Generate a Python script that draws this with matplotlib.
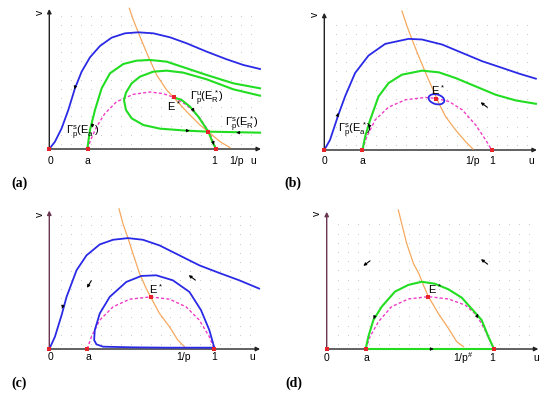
import numpy as np
import matplotlib
matplotlib.use('Agg')
import matplotlib.pyplot as plt
from matplotlib.patches import Ellipse

plt.rcParams['font.family'] = ['Liberation Sans', 'DejaVu Sans']
plt.rcParams['mathtext.fontset'] = 'custom'
plt.rcParams['mathtext.rm'] = 'Liberation Sans'
plt.rcParams['mathtext.it'] = 'Liberation Sans'
plt.rcParams['mathtext.bf'] = 'Liberation Sans:bold'

# ---------------- data (u, v) ----------------
# panel (a)
a_blue_u = [0, 0.034, 0.074, 0.114, 0.154, 0.194, 0.244, 0.304, 0.374, 0.454, 0.534, 0.624, 0.724, 0.824, 0.944, 1.064, 1.164, 1.264]
a_blue_v = [0, 0.044, 0.124, 0.234, 0.364, 0.464, 0.55, 0.618, 0.668, 0.694, 0.70, 0.694, 0.67, 0.634, 0.584, 0.538, 0.504, 0.48]
a_green1_u = [0.228, 0.244, 0.274, 0.314, 0.364, 0.444, 0.524, 0.604, 0.704, 0.824, 0.944, 1.104, 1.264]
a_green1_v = [0, 0.114, 0.234, 0.364, 0.454, 0.51, 0.53, 0.534, 0.524, 0.484, 0.444, 0.394, 0.364]
a_loop_u = [1.264, 1.104, 0.944, 0.804, 0.704, 0.624, 0.544, 0.494, 0.46, 0.448, 0.46, 0.494, 0.564, 0.664, 0.824, 0.954]
a_loop_v = [0.32, 0.358, 0.418, 0.458, 0.47, 0.464, 0.434, 0.394, 0.338, 0.294, 0.234, 0.184, 0.144, 0.122, 0.11, 0.104]
a_stab_u = [0.954, 1.264]
a_stab_v = [0.104, 0.098]
a_unst_u = [0.746, 0.794, 0.844, 0.894, 0.934, 0.954, 0.978, 1.0]
a_unst_v = [0.31, 0.294, 0.254, 0.194, 0.134, 0.104, 0.044, 0]
a_mag_u = [0.23, 0.248, 0.284, 0.334, 0.404, 0.504, 0.604, 0.684, 0.746, 0.824, 0.904, 0.964, 1.0]
a_mag_v = [0, 0.054, 0.134, 0.214, 0.284, 0.328, 0.342, 0.332, 0.31, 0.264, 0.184, 0.094, 0]
a_or_u = [0.48, 0.504, 0.544, 0.594, 0.644, 0.704, 0.746, 0.824, 0.904, 0.954, 1.024, 1.084]
a_or_v = [0.844, 0.774, 0.674, 0.554, 0.444, 0.354, 0.31, 0.224, 0.144, 0.104, 0.044, 0.008]
a_pts_u = [0, 0.23, 1.0, 0.746, 0.954]
a_pts_v = [0, 0, 0, 0.31, 0.104]

# panel (b)
b_blue_u = [0, 0.034, 0.084, 0.124, 0.184, 0.264, 0.364, 0.504, 0.584, 0.704, 0.824, 0.944, 1.064, 1.164, 1.264]
b_blue_v = [0, 0.06, 0.21, 0.32, 0.46, 0.564, 0.634, 0.664, 0.66, 0.63, 0.58, 0.53, 0.49, 0.456, 0.426]
b_green_u = [0.228, 0.244, 0.274, 0.324, 0.384, 0.464, 0.584, 0.684, 0.784, 0.904, 1.024, 1.144, 1.264]
b_green_v = [0, 0.08, 0.18, 0.32, 0.4, 0.45, 0.474, 0.464, 0.43, 0.38, 0.33, 0.296, 0.276]
b_mag_u = [0.228, 0.254, 0.304, 0.384, 0.484, 0.604, 0.67, 0.744, 0.824, 0.904, 0.964, 1.0]
b_mag_v = [0, 0.08, 0.18, 0.256, 0.3, 0.314, 0.308, 0.29, 0.24, 0.15, 0.06, 0]
b_or_u = [0.464, 0.494, 0.524, 0.564, 0.614, 0.654, 0.684, 0.724, 0.784, 0.844, 0.888]
b_or_v = [0.83, 0.74, 0.66, 0.56, 0.44, 0.35, 0.28, 0.2, 0.12, 0.05, 0.006]
b_pts_u = [0, 0.228, 1.0, 0.67]
b_pts_v = [0, 0, 0, 0.306]

# panel (c)
c_blue_u = [0, 0.034, 0.074, 0.104, 0.164, 0.224, 0.304, 0.384, 0.474, 0.564, 0.664, 0.784, 0.904, 1.024, 1.144, 1.264]
c_blue_v = [0, 0.074, 0.204, 0.314, 0.474, 0.564, 0.63, 0.658, 0.668, 0.658, 0.624, 0.564, 0.504, 0.458, 0.414, 0.364]
c_loop_u = [0.994, 0.964, 0.914, 0.844, 0.744, 0.644, 0.554, 0.464, 0.364, 0.304, 0.274, 0.27, 0.284, 0.324, 0.504, 0.704, 0.904, 0.994]
c_loop_v = [0.008, 0.114, 0.234, 0.344, 0.414, 0.444, 0.44, 0.404, 0.314, 0.214, 0.114, 0.054, 0.028, 0.014, 0.01, 0.008, 0.008, 0.008]
c_mag_u = [0.228, 0.254, 0.304, 0.384, 0.484, 0.61, 0.724, 0.824, 0.904, 0.964, 0.994]
c_mag_v = [0, 0.074, 0.174, 0.254, 0.3, 0.314, 0.3, 0.254, 0.174, 0.074, 0]
c_or_u = [0.42, 0.444, 0.474, 0.504, 0.544, 0.584, 0.61, 0.664, 0.724, 0.774, 0.814]
c_or_v = [0.844, 0.754, 0.668, 0.574, 0.454, 0.364, 0.314, 0.214, 0.134, 0.054, 0.014]
c_pts_u = [0, 0.228, 0.994, 0.61]
c_pts_v = [0, 0, 0, 0.314]

# panel (d)
d_green_u = [0.233, 0.249, 0.279, 0.329, 0.408, 0.488, 0.568, 0.647, 0.727, 0.807, 0.886, 0.926, 0.966, 1.0]
d_green_v = [0, 0.074, 0.173, 0.253, 0.343, 0.383, 0.402, 0.39, 0.357, 0.307, 0.219, 0.173, 0.074, 0]
d_gline_u = [0.233, 1.0]
d_gline_v = [0, 0]
d_mag_u = [0.233, 0.259, 0.309, 0.388, 0.488, 0.608, 0.727, 0.827, 0.896, 0.946, 1.0]
d_mag_v = [0, 0.074, 0.163, 0.253, 0.299, 0.313, 0.299, 0.263, 0.203, 0.113, 0]
d_or_u = [0.428, 0.448, 0.478, 0.518, 0.552, 0.578, 0.608, 0.667, 0.727, 0.777, 0.817]
d_or_v = [0.831, 0.751, 0.631, 0.512, 0.448, 0.382, 0.313, 0.213, 0.124, 0.044, 0.014]
d_pts_u = [0, 0.233, 1.0, 0.608]
d_pts_v = [0, 0, 0, 0.313]

# ---------------- styling ----------------
BLUE = '#2a2ae6'
GREEN = '#22dd22'
ORANGE = '#f6a95e'
MAGENTA = '#f03cc8'
RED = '#e8232a'
W, H = 550, 397

fig = plt.figure(figsize=(5.5, 3.97), dpi=100)


def make_ax(x0, y0, x1, y1, ox, oy, unit):
    ax = fig.add_axes([x0 / W, 1 - y1 / H, (x1 - x0) / W, (y1 - y0) / H])
    ax.set_xlim((x0 - ox) / unit, (x1 - ox) / unit)
    ax.set_ylim((oy - y1) / unit, (oy - y0) / unit)
    ax.axis('off')
    return ax


def base(ax, utop, vtop, vaxcol='#222222'):
    gu = np.arange(0.07, utop - 0.02, 0.06)
    gv = np.arange(0.03, vtop - 0.02, 0.055)
    GU, GV = np.meshgrid(gu, gv)
    ax.scatter(GU.ravel(), GV.ravel(), s=0.6, color='#c4c4c4', lw=0, zorder=0)
    ax.annotate('', xy=(utop, 0), xytext=(0, 0),
                arrowprops=dict(arrowstyle='-|>', color='#222222', lw=1.0, mutation_scale=6, shrinkA=0, shrinkB=0), zorder=1)
    ax.annotate('', xy=(0, vtop), xytext=(0, 0),
                arrowprops=dict(arrowstyle='-|>', color=vaxcol, lw=1.0, mutation_scale=6, shrinkA=0, shrinkB=0), zorder=1)


def arrow(ax, u, v, du, dv, s=5):
    n = np.hypot(du, dv)
    du, dv = du / n * 0.012, dv / n * 0.012
    ax.annotate('', xy=(u + du, v + dv), xytext=(u - du, v - dv),
                arrowprops=dict(arrowstyle='-|>', color='black', lw=0.4, mutation_scale=s, shrinkA=0, shrinkB=0), zorder=6)


def field(ax, u, v, du, dv):
    n = np.hypot(du, dv)
    du, dv = du / n * 0.025, dv / n * 0.025
    ax.annotate('', xy=(u + du, v + dv), xytext=(u - du, v - dv),
                arrowprops=dict(arrowstyle='-|>', color='black', lw=0.8, mutation_scale=4, shrinkA=0, shrinkB=0), zorder=6)


def ticks(ax, labels, vy):
    for (u, t) in labels:
        ax.text(u, vy, t, ha='center', va='center', fontsize=7.5)


def vlabel(ax, u, v):
    ax.text(u, v, 'v', rotation=90, ha='center', va='center', fontsize=7.5)


def mag(ax, u, v):
    ax.plot(u, v, color=MAGENTA, lw=1.0, ls=(0, (2.2, 1.6)), zorder=2)


def orange(ax, u, v):
    ax.plot(u, v, color=ORANGE, lw=0.9, zorder=3)


def pts(ax, u, v):
    ax.scatter(u, v, marker='s', s=5, color=RED, lw=0, zorder=7)


# ---- (a)
ax = make_ax(0, 0, 275, 195, 49.3, 149, 166.7)
base(ax, 1.27, 0.84)
mag(ax, a_mag_u, a_mag_v)
orange(ax, a_or_u, a_or_v)
ax.plot(a_blue_u, a_blue_v, color=BLUE, lw=1.3, zorder=4)
for uu, vv in [(a_green1_u, a_green1_v), (a_loop_u, a_loop_v), (a_stab_u, a_stab_v), (a_unst_u, a_unst_v)]:
    ax.plot(uu, vv, color=GREEN, lw=1.5, zorder=4)
pts(ax, a_pts_u, a_pts_v)
arrow(ax, 0.154, 0.37, -0.3, -1)
arrow(ax, 0.258, 0.14, -0.15, -1)
arrow(ax, 0.83, 0.11, 1, -0.03)
arrow(ax, 1.134, 0.098, -1, 0)
arrow(ax, 0.864, 0.234, 0.6, -1)
arrow(ax, 0.984, 0.036, 0.3, -1)
ticks(ax, [(0.008, '0'), (0.23, 'a'), (0.99, '1'), (1.12, '1/p'), (1.224, 'u')], -0.072)
vlabel(ax, -0.056, 0.818)
ax.text(0.1, 0.1, r'$\Gamma^s_p(E^*_a)$', fontsize=8, ha='left', va='center', zorder=8)
ax.text(0.705, 0.255, r'$E^*$', fontsize=8, ha='left', va='center', zorder=8)
ax.text(0.846, 0.305, r'$\Gamma^u_p(E^*_R)$', fontsize=8, ha='left', va='center', zorder=8)
ax.text(1.054, 0.15, r'$\Gamma^s_p(E^*_R)$', fontsize=8, ha='left', va='center', zorder=8)

# ---- (b)
ax = make_ax(275, 0, 550, 195, 324.3, 150, 167.4)
base(ax, 1.27, 0.82)
mag(ax, b_mag_u, b_mag_v)
orange(ax, b_or_u, b_or_v)
ax.plot(b_blue_u, b_blue_v, color=BLUE, lw=1.3, zorder=4)
ax.plot(b_green_u, b_green_v, color=GREEN, lw=1.5, zorder=4)
ax.add_patch(Ellipse((0.67, 0.303), 0.096, 0.058, angle=-15, fill=False, ec=BLUE, lw=1.3, zorder=5))
pts(ax, b_pts_u, b_pts_v)
arrow(ax, 0.08, 0.21, 0.3, 1)
arrow(ax, 0.27, 0.14, -0.15, -1)
field(ax, 0.954, 0.27, -1, 0.75)
ticks(ax, [(0.004, '0'), (0.228, 'a'), (0.884, '1/p'), (1.004, '1'), (1.234, 'u')], -0.066)
vlabel(ax, -0.056, 0.81)
ax.text(0.08, 0.12, r'$\Gamma^s_p(E^*_a)$', fontsize=8, ha='left', va='center', zorder=8)
ax.text(0.635, 0.355, r'$E^*$', fontsize=8, ha='left', va='center', zorder=8)

# ---- (c)
ax = make_ax(0, 195, 275, 397, 49.3, 349, 166)
base(ax, 1.27, 0.834, vaxcol='#6a3550')
mag(ax, c_mag_u, c_mag_v)
orange(ax, c_or_u, c_or_v)
ax.plot(c_blue_u, c_blue_v, color=BLUE, lw=1.3, zorder=4)
ax.plot(c_loop_u, c_loop_v, color=BLUE, lw=1.3, zorder=4)
pts(ax, c_pts_u, c_pts_v)
arrow(ax, 0.08, 0.255, -0.3, -1)
field(ax, 0.24, 0.39, -0.6, -1)
field(ax, 0.86, 0.43, -1, 0.75)
ticks(ax, [(0.008, '0'), (0.234, 'a'), (0.81, '1/p'), (0.994, '1'), (1.224, 'u')], -0.05)
vlabel(ax, -0.056, 0.81)
ax.text(0.6, 0.36, r'$E^*$', fontsize=8, ha='left', va='center', zorder=8)

# ---- (d)
ax = make_ax(275, 195, 550, 397, 326.7, 349, 167.3)
base(ax, 1.265, 0.82, vaxcol='#6a3550')
mag(ax, d_mag_u, d_mag_v)
orange(ax, d_or_u, d_or_v)
ax.plot(d_green_u, d_green_v, color=GREEN, lw=1.5, zorder=4)
ax.plot(d_gline_u, d_gline_v, color=GREEN, lw=1.5, zorder=4)
pts(ax, d_pts_u, d_pts_v)
arrow(ax, 0.285, 0.19, -0.4, -1)
arrow(ax, 0.9, 0.2, 0.5, 1)
arrow(ax, 0.627, 0, 1, 0)
field(ax, 0.239, 0.512, -1, -0.75)
field(ax, 0.942, 0.522, -1, 0.75)
ticks(ax, [(0.0, '0'), (0.239, 'a'), (0.99, '1'), (1.25, 'u')], -0.056)
ax.text(0.817, -0.056, r'$1/p^\#$', ha='center', va='center', fontsize=7.5)
vlabel(ax, -0.056, 0.81)
ax.text(0.605, 0.36, r'$E^*$', fontsize=8, ha='left', va='center', zorder=8)

# panel labels
for (x, y, t) in [(19, 183, '(a)'), (293, 183, '(b)'), (19, 383, '(c)'), (294, 383, '(d)')]:
    fig.text(x / W, 1 - y / H, t, fontsize=10, fontweight='bold', family='Liberation Serif', ha='center', va='center')

fig.savefig('out.png', dpi=100)
